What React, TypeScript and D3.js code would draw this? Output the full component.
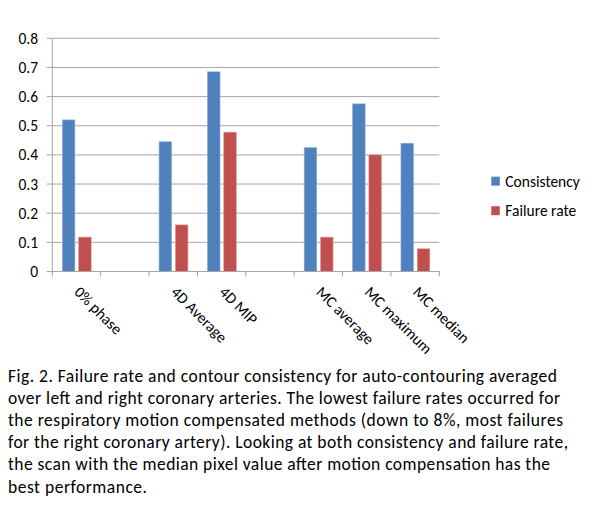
import React from "react";
import * as d3 from "d3";

const categories = ["0% phase", "", "4D Average", "4D MIP", "", "MC average", "MC maximum", "MC median"];
const consistency: (number | null)[] = [0.52, null, 0.445, 0.685, null, 0.425, 0.575, 0.44];
const failureRate: (number | null)[] = [0.118, null, 0.16, 0.478, null, 0.118, 0.4, 0.078];
const yTicks = [0, 0.1, 0.2, 0.3, 0.4, 0.5, 0.6, 0.7, 0.8];
const seriesNames = ["Consistency", "Failure rate"];
const seriesColors = ["#4F81BD", "#C0504D"];
const captionLines = [
  "Fig. 2. Failure rate and contour consistency for auto-contouring averaged",
  "over left and right coronary arteries. The lowest failure rates occurred for",
  "the respiratory motion compensated methods (down to 8%, most failures",
  "for the right coronary artery). Looking at both consistency and failure rate,",
  "the scan with the median pixel value after motion compensation has the",
  "best performance.",
];
const captionWidths = [549, 552, 555, 560, 542, 139];

const FONT = "Carlito, Calibri, Lato, 'Open Sans', sans-serif";

export default function App() {
  const W = 597, H = 521;
  const left = 52.3, right = 439.3, top = 38.3, bottom = 271.5;
  const x = d3.scaleBand<number>().domain(categories.map((_, i) => i)).range([left, right]).padding(0);
  const y = d3.scaleLinear().domain([0, 0.8]).range([bottom, top]);
  const bw = x.bandwidth();
  const barW = bw * 0.26;
  const offsets = [-bw * 0.293, bw * 0.044];
  const series = [consistency, failureRate];
  const boundaries = d3.range(categories.length + 1).map((i) => left + i * bw);

  return (
    <div style={{ position: "absolute", left: 0, top: 0, width: W, height: H, background: "#fff" }}>
      <svg width={W} height={H} style={{ display: "block", fontFamily: FONT }}>
        <rect x={0} y={0} width={W} height={H} fill="#fff" />
        {yTicks.map((t) => (
          <g key={"g" + t}>
            <line x1={left - 5.5} x2={right} y1={y(t)} y2={y(t)} stroke="#a6a6a6" strokeWidth={1} />
            <text x={38} y={y(t)} dy="0.36em" textAnchor="end" fontSize={15.5} fill="#000">
              {t === 0 ? "0" : t.toFixed(1)}
            </text>
          </g>
        ))}
        <line x1={left} x2={left} y1={top} y2={bottom} stroke="#a6a6a6" strokeWidth={1} />
        {boundaries.map((b, i) => (
          <line key={"xt" + i} x1={b} x2={b} y1={bottom} y2={bottom + 5} stroke="#a6a6a6" strokeWidth={1} />
        ))}
        {series.map((vals, s) =>
          vals.map((v, i) =>
            v == null ? null : (
              <rect
                key={`b${s}-${i}`}
                x={(x(i) as number) + bw / 2 + offsets[s]}
                y={y(v)}
                width={barW}
                height={y(0) - y(v)}
                fill={seriesColors[s]}
                stroke={s === 0 ? "#8fb0da" : "#e0a09e"}
                strokeWidth={0.6}
              />
            )
          )
        )}
        <line x1={left} x2={right} y1={bottom} y2={bottom} stroke="#a6a6a6" strokeWidth={1} />
        {categories.map((c, i) =>
          c ? (
            <text
              key={"xl" + i}
              transform={`translate(${(x(i) as number) + bw / 2 - 3},${293}) rotate(45)`}
              fontSize={15.5}
              fill="#000"
            >
              {c}
            </text>
          ) : null
        )}
        {seriesNames.map((n, i) => (
          <g key={"lg" + i}>
            <rect x={491.3} y={176.7 + i * 29.5} width={8.5} height={9} fill={seriesColors[i]} />
            <text x={505.3} y={186.5 + i * 29.5} fontSize={15.5} fill="#000">
              {n}
            </text>
          </g>
        ))}
        {captionLines.map((l, i) => (
          <text
            key={"cap" + i}
            x={8}
            y={381.5 + i * 22.2}
            fontSize={17.5}
            fill="#000"
            textLength={captionWidths[i]}
            lengthAdjust="spacing"
          >
            {l}
          </text>
        ))}
      </svg>
    </div>
  );
}
